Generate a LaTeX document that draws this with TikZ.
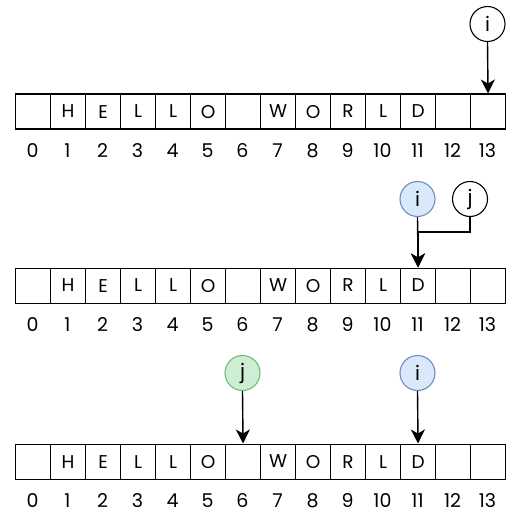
\documentclass[tikz,border=0pt]{standalone}
\usepackage{fontspec}
\setmainfont{Poppins}
\usetikzlibrary{arrows.meta}
\definecolor{bfill}{HTML}{DAE8FC}
\definecolor{bstroke}{HTML}{6C8EBF}
\definecolor{gfill}{HTML}{CDEED3}
\definecolor{gstroke}{HTML}{6ABF78}
\tikzset{myhead/.tip={Stealth[length=14pt,width=14pt,inset=4pt]}}
\begin{document}
\begin{tikzpicture}[x=1pt,y=-1pt,
  cell/.style={draw, line width=1.1pt, minimum width=35pt, minimum height=35pt, inner sep=0pt, anchor=north west, font=\fontsize{18.5}{18.5}\selectfont},
  idx/.style={font=\fontsize{19}{19}\selectfont, inner sep=0pt},
  ptr/.style={circle, draw, line width=1.1pt, minimum size=35pt, inner sep=0pt, font=\fontsize{20}{20}\selectfont},
  blueptr/.style={ptr, fill=bfill, draw=bstroke},
  greenptr/.style={ptr, fill=gfill, draw=gstroke},
  arr/.style={-myhead, line width=1.4pt}
]
\useasboundingbox (0,0) rectangle (517,516);
\foreach \r/\top in {1/93.5,2/267.5,3/443.5}{
  \foreach \c [count=\k from 0] in {{},H,E,L,L,O,{},W,O,R,L,D,{},{}}{
    \node[cell] (r\r c\k) at ({15+35*\k},\top) {\c};
    \node[idx] (n\r c\k) at ({32.5+35*\k},{\top+57}) {\k};
  }
}
% row 1
\node[ptr] (i1) at (487.5,24) {i};
\draw[arr] (i1.south) -- (r1c13.north);
% row 2
\node[blueptr] (i2) at (417.5,199) {i};
\node[ptr] (j2) at (470,199) {j};
\draw[arr] (i2.south) -- (r2c11.north);
\draw[arr] (j2.south) -- ++(0,15) -| (r2c11.north);
% row 3
\node[greenptr] (j3) at (242.5,373) {j};
\node[blueptr] (i3) at (417.5,373) {i};
\draw[arr] (j3.south) -- (r3c6.north);
\draw[arr] (i3.south) -- (r3c11.north);
\end{tikzpicture}
\end{document}
